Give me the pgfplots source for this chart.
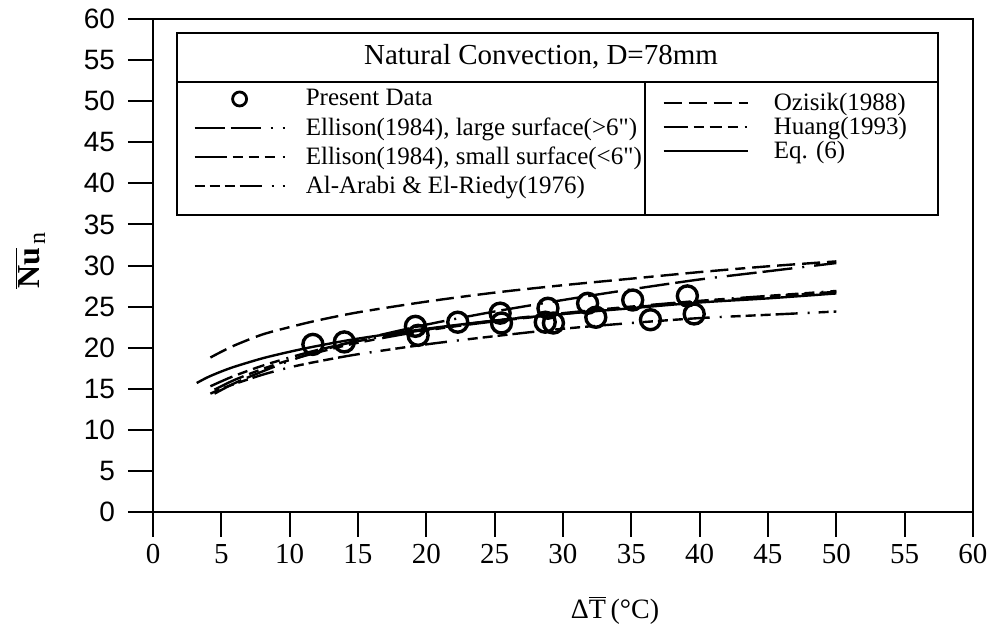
\documentclass[border=0pt]{standalone}
\usepackage{fontspec}
\setmainfont{Liberation Serif}
\setsansfont{Liberation Sans}
\newfontfamily\rawserif{Liberation Serif}
\usepackage{pgfplots}
\pgfplotsset{compat=1.18}
\tikzset{
 ellL/.style={dash pattern=on 15pt off 3pt on 15pt off 5pt on 1pt off 5pt},
 ellS/.style={dash pattern=on 16pt off 3pt on 5pt off 3pt on 5pt off 3pt on 5pt off 4pt},
 alar/.style={dash pattern=on 5pt off 2.5pt on 5pt off 2.5pt on 5pt off 2.5pt on 11pt off 5pt on 1pt off 4.5pt},
 ozi/.style={dash pattern=on 9pt off 3.5pt on 9pt off 3.5pt on 9pt off 3.5pt on 5pt off 3.5pt},
 hua/.style={dash pattern=on 12pt off 3pt on 5pt off 3pt on 6pt off 3pt on 5pt off 3.5pt on 1pt off 3.5pt},
}
\newcommand{\qq}{{\rawserif\char"22}}
\pgfplotsset{circlegend/.style={legend image code/.code={\draw[##1] plot coordinates {(22.5pt,0pt)};}}}
\begin{document}
\begin{tikzpicture}
\path[use as bounding box] (-76.5pt,-62.5pt) rectangle (419pt,256pt);
\begin{axis}[
 scale only axis, width=410pt, height=246.5pt,
 at={(0pt,0pt)}, anchor=south west,
 xmin=0, xmax=60, ymin=0, ymax=60,
 xtick={0,5,...,60}, ytick={0,5,...,60},
 tick align=outside, xtick pos=bottom, ytick pos=left,
 major tick length=12.5pt,
 axis line style={line width=1pt}, every tick/.style={line width=1pt, black},
 /pgf/number format/assume math mode=true,
 xticklabel style={font=\fontsize{14.5}{16}\selectfont},
 yticklabel style={font=\sffamily\fontsize{14}{16}\selectfont, xshift=-3pt},
 legend style={at={(0.0488,0.868)}, anchor=north west, draw=none, fill=none, inner sep=0pt, row sep=0pt, column sep=10pt, font=\fontsize{12.5}{14}\selectfont, nodes={inner sep=0pt, minimum height=14.5pt}},
 legend cell align=left,
 legend image code/.code={\draw[#1] (0pt,0pt) -- (45pt,0pt);},
 every axis plot/.append style={line width=1.2pt, black},
]
\addlegendimage{only marks, mark=o, mark size=3.5pt, line width=1.4pt, black, circlegend}
\addlegendentry{Present Data}
% Ellison large surface
\addplot[ellL, smooth] coordinates {(4.5,14.4) (6,15.7) (8,17.1) (10,18.4) (12,19.5) (15,20.9) (20,22.8) (25,24.4) (30,25.8) (35,27.1) (40,28.3) (45,29.3) (50,30.3)};
\addlegendentry{Ellison(1984), large surface(>6\qq)}
% Ellison small surface
\addplot[ellS, smooth] coordinates {(4.5,14.9) (5,15.3) (6,16.1) (8,17.4) (10,18.5) (12,19.4) (15,20.6) (20,22.1) (25,23.2) (30,24.1) (35,24.9) (40,25.6) (45,26.2) (50,26.8)};
\addlegendentry{Ellison(1984), small surface(<6\qq)}
% Al-Arabi
\addplot[alar, smooth] coordinates {(4.2,14.4) (5,15.0) (6,15.6) (8,16.7) (10,17.6) (12,18.3) (15,19.2) (20,20.4) (25,21.4) (30,22.3) (35,23.0) (40,23.6) (45,24.0) (50,24.4)};
\addlegendentry{Al-Arabi \& El-Riedy(1976)}
% Ozisik
\addplot[ozi, smooth, forget plot] coordinates {(4.2,18.8) (5,19.5) (6,20.3) (8,21.6) (10,22.5) (12,23.3) (15,24.3) (20,25.6) (25,26.7) (30,27.6) (35,28.4) (40,29.2) (45,29.9) (50,30.5)};
% Huang
\addplot[hua, smooth, forget plot] coordinates {(4.2,15.3) (5,15.9) (6,16.6) (8,17.8) (10,18.8) (12,19.7) (15,20.8) (20,22.2) (25,23.3) (30,24.2) (35,25.0) (40,25.7) (45,26.3) (50,26.9)};
% Eq. (6)
\addplot[solid, smooth, forget plot] coordinates {(3.2,15.7) (4,16.4) (5,17.1) (6,17.7) (8,18.7) (10,19.5) (12,20.2) (15,21.1) (20,22.3) (25,23.3) (30,24.1) (35,24.8) (40,25.5) (45,26.0) (50,26.6)};
% Present data
\addplot[only marks, mark=o, mark size=5pt, line width=1.7pt, forget plot] coordinates {
(11.7,20.4) (14.0,20.7) (19.2,22.6) (19.4,21.5) (22.3,23.1) (25.4,24.2) (25.5,23.0)
(28.9,24.8) (28.7,23.1) (29.3,23.0) (31.8,25.4) (32.4,23.7) (35.1,25.8) (36.4,23.4)
(39.1,26.3) (39.6,24.1)};
\end{axis}
\begin{axis}[
 scale only axis, width=410pt, height=246.5pt,
 at={(0pt,0pt)}, anchor=south west,
 xmin=0, xmax=60, ymin=0, ymax=60, hide axis,
 legend style={at={(0.6207,0.855)}, anchor=north west, draw=none, fill=none, inner sep=0pt, row sep=0pt, column sep=12.5pt, font=\fontsize{12.5}{14}\selectfont, nodes={inner sep=0pt, minimum height=12pt}},
 legend cell align=left,
 legend image code/.code={\draw[#1] (0pt,0pt) -- (42pt,0pt);},
]
\addlegendimage{ozi, line width=1.2pt, black}
\addlegendentry{Ozisik(1988)}
\addlegendimage{hua, line width=1.2pt, black}
\addlegendentry{Huang(1993)}
\addlegendimage{solid, line width=1.2pt, black}
\addlegendentry{Eq. (6)}
\end{axis}
\draw[line width=1pt] (12pt,148.5pt) rectangle (392.5pt,239.5pt);
\draw[line width=1pt] (12pt,215pt) -- (392.5pt,215pt);
\draw[line width=1pt] (246pt,148.5pt) -- (246pt,215pt);
\node[font=\fontsize{14.5}{16}\selectfont] at (194pt,227.5pt) {Natural Convection, D=78mm};
\node[rotate=90, font=\fontsize{16}{18}\selectfont] at (-61.5pt,126pt) {$\overline{\hbox{\textbf{Nu}}}_{\hbox{\fontsize{12}{14}\selectfont\,n}}$};
\node[font=\fontsize{14}{16}\selectfont] at (231pt,-49pt) {Δ$\overline{\hbox{T}}$\,(°C)};
\end{tikzpicture}
\end{document}
